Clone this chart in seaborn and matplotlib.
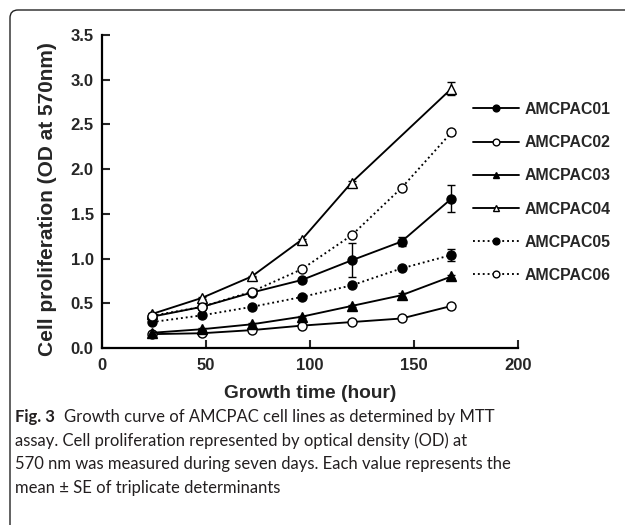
import matplotlib
matplotlib.use("Agg")
import matplotlib.pyplot as plt
import seaborn as sns
import numpy as np
from matplotlib.patches import FancyBboxPatch

# ---------------- data ----------------
hours = [24, 48, 72, 96, 120, 144, 168]
hours_04 = [24, 48, 72, 96, 120, 168]

amcpac01 = [0.35, 0.46, 0.62, 0.76, 0.98, 1.19, 1.67]
amcpac01_se = [0.01, 0.01, 0.01, 0.02, 0.19, 0.05, 0.15]
amcpac02 = [0.155, 0.165, 0.20, 0.25, 0.29, 0.33, 0.47]
amcpac02_se = [0.01, 0.01, 0.01, 0.01, 0.01, 0.01, 0.01]
amcpac03 = [0.17, 0.21, 0.265, 0.35, 0.47, 0.59, 0.80]
amcpac03_se = [0.01, 0.01, 0.01, 0.01, 0.01, 0.02, 0.02]
amcpac04 = [0.38, 0.56, 0.80, 1.21, 1.85, 2.90]
amcpac04_se = [0.01, 0.01, 0.01, 0.01, 0.02, 0.07]
amcpac05 = [0.29, 0.365, 0.46, 0.57, 0.70, 0.89, 1.04]
amcpac05_se = [0.01, 0.01, 0.01, 0.01, 0.01, 0.01, 0.07]
amcpac06 = [0.36, 0.46, 0.63, 0.88, 1.26, 1.79, 2.41]
amcpac06_se = [0.01, 0.01, 0.01, 0.01, 0.01, 0.01, 0.02]

labels = ["AMCPAC01", "AMCPAC02", "AMCPAC03", "AMCPAC04", "AMCPAC05", "AMCPAC06"]
x_ticks = [0, 50, 100, 150, 200]
y_ticks = [0.0, 0.5, 1.0, 1.5, 2.0, 2.5, 3.0, 3.5]
x_label = "Growth time (hour)"
y_label = "Cell proliferation (OD at 570nm)"
caption_bold = "Fig. 3"
caption_lines = [
    "Growth curve of AMCPAC cell lines as determined by MTT",
    "assay. Cell proliferation represented by optical density (OD) at",
    "570 nm was measured during seven days. Each value represents the",
    "mean \u00b1 SE of triplicate determinants",
]

# ---------------- style ----------------
sns.set_style("ticks")
plt.rcParams["font.family"] = ["Liberation Sans", "DejaVu Sans"]

W, H = 625, 525
fig = plt.figure(figsize=(W / 100, H / 100), dpi=100)
fig.patch.set_facecolor("white")

ax_left, ax_right, ax_top, ax_bottom = 102, 518, 35, 348
ax = fig.add_axes([ax_left / W, (H - ax_bottom) / H,
                   (ax_right - ax_left) / W, (ax_bottom - ax_top) / H])
ax.set_facecolor("white")

dotted = (0, (1, 1.6))
series = [
    (hours, amcpac01, amcpac01_se, "o", "black", "-"),
    (hours, amcpac02, amcpac02_se, "o", "white", "-"),
    (hours, amcpac03, amcpac03_se, "^", "black", "-"),
    (hours_04, amcpac04, amcpac04_se, "^", "white", "-"),
    (hours, amcpac05, amcpac05_se, "o", "black", dotted),
    (hours, amcpac06, amcpac06_se, "o", "white", dotted),
]

for (x, y, se, mk, mfc, ls), lab in zip(series, labels):
    ax.errorbar(x, y, yerr=se, fmt="none", ecolor="black", elinewidth=1.0,
                capsize=3, capthick=1.0, zorder=2)
    sns.lineplot(x=x, y=y, ax=ax, color="black", marker=mk, markersize=6.5,
                 markerfacecolor=mfc, markeredgecolor="black", markeredgewidth=1.0,
                 linestyle=ls, linewidth=1.35, label=lab, zorder=3)

ax.set_xlim(0, 200)
ax.set_ylim(0, 3.5)
ax.set_xticks(x_ticks)
ax.set_yticks(y_ticks)
ax.set_xticklabels([str(v) for v in x_ticks])
ax.set_yticklabels([f"{v:.1f}" for v in y_ticks])
ax.tick_params(direction="in", length=6, width=1.5, labelsize=12)
ax.tick_params(axis="x", pad=7)
ax.tick_params(axis="y", pad=6)
for lab in ax.get_xticklabels() + ax.get_yticklabels():
    lab.set_fontweight("bold")
sns.despine(ax=ax)
for s in ["left", "bottom"]:
    ax.spines[s].set_linewidth(1.6)
    ax.spines[s].set_color("black")

ax.set_xlabel(x_label, fontsize=13.8, fontweight="bold", labelpad=9)
ax.set_ylabel(y_label, fontsize=15, fontweight="bold")
ax.yaxis.set_label_coords(-(ax_left - 57) / (ax_right - ax_left),
                          (ax_bottom - 199) / (ax_bottom - ax_top))

handles, hlabels = ax.get_legend_handles_labels()
ax.legend(handles, hlabels, loc="upper left",
          bbox_to_anchor=(473 / W, 1 - 102 / H), bbox_transform=fig.transFigure,
          frameon=False, prop={"weight": "bold", "size": 11.4},
          handlelength=2.9, handletextpad=0.35, labelspacing=1.15,
          borderpad=0, borderaxespad=0, markerscale=0.75)

# ---------------- frame ----------------
frame = FancyBboxPatch((0.10, -0.4), 7.5, (H - 10) / 100 + 0.4,
                       boxstyle="round,pad=0,rounding_size=0.08",
                       transform=fig.dpi_scale_trans, fill=False,
                       edgecolor="#222222", linewidth=1.0)
fig.add_artist(frame)

# ---------------- caption ----------------
cap_font = ["Lato", "DejaVu Sans"]
cap_size = 12.0
line_y = [417, 441, 464, 488]
x0 = 15 / W
t = fig.text(x0, 1 - line_y[0] / H, caption_bold, fontsize=cap_size, fontweight="bold",
             family=cap_font, va="center", ha="left", color="#231f20")
fig.canvas.draw()
bb = t.get_window_extent(renderer=fig.canvas.get_renderer())
fig.text(bb.x1 / W + 9 / W, 1 - line_y[0] / H, caption_lines[0], fontsize=cap_size,
         family=cap_font, va="center", ha="left", color="#231f20")
for ly, txt in zip(line_y[1:], caption_lines[1:]):
    fig.text(x0, 1 - ly / H, txt, fontsize=cap_size, family=cap_font,
             va="center", ha="left", color="#231f20")

fig.savefig("out.png", dpi=100, facecolor="white")
